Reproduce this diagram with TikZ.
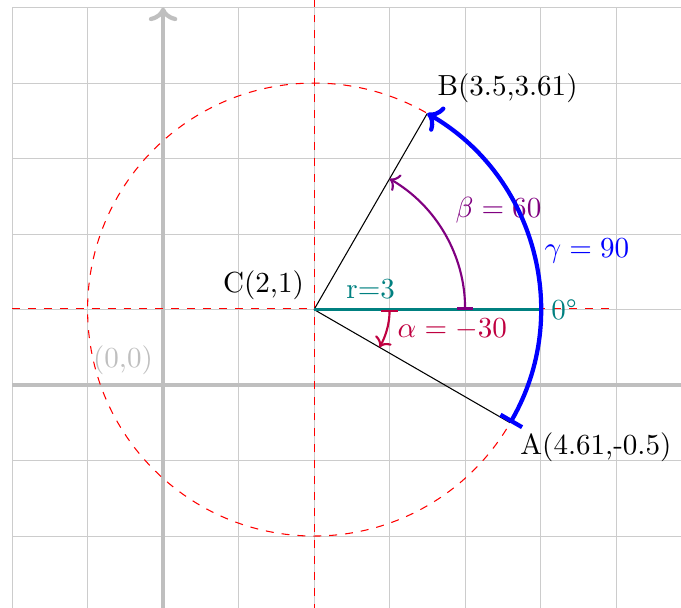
\documentclass[11pt,tikz,border=0pt]{standalone}
\usetikzlibrary{arrows.meta,calc}

\tikzset{
  gridline/.style={gray!40,thin},
  axisline/.style={gray!50,ultra thick,->},
  guideline/.style={draw=red,dashed,thin},
  anglearc/.style={thick,|->},
}

\begin{document}
\begin{tikzpicture}
\clip (-2.16,-2.94) rectangle (6.86,5.1);
\draw[gridline] (-2,-3) grid (7,5);
\draw[axisline] (-2,0) -- (7.2,0);
\draw[axisline] (0,-3) -- (0,5);

\coordinate (O) at (0,0);
\coordinate (C) at (2,1);
\coordinate (A) at ($(C)+(-30:3)$);
\coordinate (B) at ($(C)+(60:3)$);
\coordinate (R) at ($(C)+(3,0)$);
\node[gray!50,above left] (Olabel) at (O) {(0,0)};

% guide lines through the centre
\draw[guideline] (C) circle (3);
\draw[guideline] (-2,1.008) -- (6,1.008);
\draw[guideline] (C) ++(0,-4) -- ++(0,8.2);

\draw (C) -- (A);
\draw (C) -- (B);
\draw[teal,thick] (C) -- node[pos=0.25,above] (rlabel) {r=3} (R)
  node[right] (zerolabel) {0\textdegree};

% angle arcs
\draw[anglearc,purple] ($(C)+(1,0)$) arc[start angle=0,end angle=-30,radius=1]
  node[midway,right] (alphalabel) {$\alpha=-30$};
\draw[anglearc,violet] ($(C)+(2,0)$) arc[start angle=0,end angle=60,radius=2]
  node[midway,above right] (betalabel) {$\beta=60$};
\draw[anglearc,blue,ultra thick] (A) arc[start angle=-30,end angle=60,radius=3]
  node[midway,right] (gammalabel) {$\gamma=90$};

\node[above left] (Clabel) at (C) {C(2,1)};
\node[above right] (Blabel) at (B) {B(3.5,3.61)};
\node[below right] (Alabel) at (A) {A(4.61,-0.5)};
\end{tikzpicture}
\end{document}
